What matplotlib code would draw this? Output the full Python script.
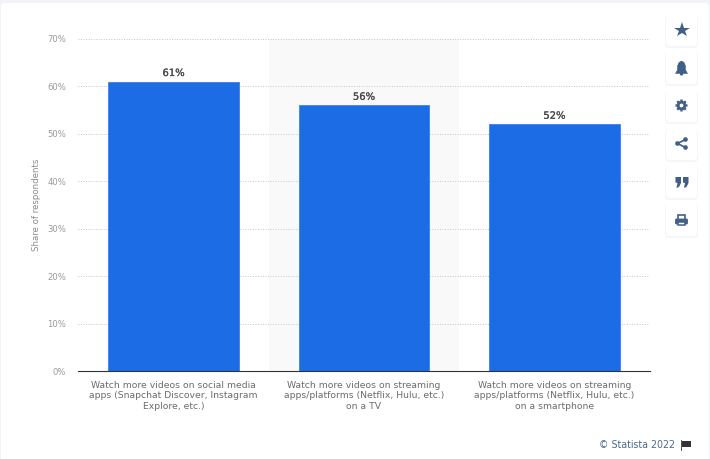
import matplotlib
matplotlib.use("Agg")
import matplotlib.pyplot as plt
import matplotlib.patheffects as pe
import numpy as np
from matplotlib.colors import LinearSegmentedColormap
from matplotlib.patches import FancyBboxPatch, Rectangle, Polygon, Circle, Wedge

categories = [
    "Watch more videos on social media\napps (Snapchat Discover, Instagram\nExplore, etc.)",
    "Watch more videos on streaming\napps/platforms (Netflix, Hulu, etc.)\non a TV",
    "Watch more videos on streaming\napps/platforms (Netflix, Hulu, etc.)\non a smartphone",
]
shares = [61, 56, 52]
y_ticks = [0, 10, 20, 30, 40, 50, 60, 70]

W, H = 710, 459
BLUE = "#1c6ce6"
ICON = "#3f5f86"

plt.rcParams["font.family"] = "DejaVu Sans"

fig = plt.figure(figsize=(W / 100, H / 100), dpi=100, facecolor="#f1f3f9")

# page background, card and the side buttons, in pixel coordinates
bg = fig.add_axes([0, 0, 1, 1], zorder=0)
bg.axis("off")
bg.add_patch(FancyBboxPatch((1, 3), 708, 470, boxstyle="round,pad=0,rounding_size=4",
                            fc="white", ec="none"))
# the soft grey fade behind the buttons
fade = LinearSegmentedColormap.from_list("fade", ["#ffffff", "#f6f7fb"])
bg.imshow(np.linspace(0, 1, 50).reshape(1, -1), cmap=fade, extent=(655, 708.5, 459, 5),
          aspect="auto", zorder=0.5)
bg.set_xlim(0, W)
bg.set_ylim(H, 0)

button_tops = [15, 53, 91, 129, 167, 205]
for top in button_tops:
    bg.add_patch(FancyBboxPatch((665, top), 33, 33, boxstyle="round,pad=0,rounding_size=4",
                                fc="#eef0f6", ec="none", alpha=0.6, zorder=1))
    bg.add_patch(FancyBboxPatch((666, top), 31, 31, boxstyle="round,pad=0,rounding_size=3.5",
                                fc="white", ec="none", zorder=2))

cx = 681.5
# star
bg.plot(cx, 29.8, marker="*", ms=11.5, color=ICON, mew=0, zorder=3)
# bell
bg.add_patch(Polygon([(675.5, 73.5), (677.5, 70), (677.5, 66), (679, 62.5), (681.5, 61), (684, 62.5),
                      (685.5, 66), (685.5, 70), (687.5, 73.5)],
                     fc=ICON, ec=ICON, lw=0.4, zorder=3))
bg.add_patch(Circle((cx, 74), 1.6, fc=ICON, ec="none", zorder=3))
# gear
bg.add_patch(Circle((cx, 105.5), 4.8, fc=ICON, ec="none", zorder=3))
for angle in range(0, 360, 45):
    bg.add_patch(Wedge((cx, 105.5), 6, angle - 13, angle + 13, fc=ICON, ec="none", zorder=3))
bg.add_patch(Circle((cx, 105.5), 1.9, fc="white", ec="none", zorder=4))
# share
bg.plot([685.5, 677.5, 685.5], [139.5, 143.5, 147.5], color=ICON, lw=1.2, zorder=3)
for px, py in [(685.5, 139.5), (677.5, 143.5), (685.5, 147.5)]:
    bg.add_patch(Circle((px, py), 2.3, fc=ICON, ec="none", zorder=3))
# quote
for qx in [675.5, 683]:
    bg.add_patch(Polygon([(qx, 177), (qx + 5.5, 177), (qx + 5.5, 183), (qx + 3.5, 187), (qx + 1, 188),
                          (qx + 2, 183), (qx, 182.5)], fc=ICON, ec="none", zorder=3))
# printer
bg.add_patch(Rectangle((678, 214.5), 7, 5, fc="white", ec=ICON, lw=1.2, zorder=3))
bg.add_patch(FancyBboxPatch((675.5, 219), 12, 5, boxstyle="round,pad=0,rounding_size=1",
                            fc=ICON, ec=ICON, lw=0.6, zorder=3))
bg.add_patch(Rectangle((678, 222), 7, 3, fc="white", ec=ICON, lw=1.1, zorder=4))

# main chart
left, right, top, bottom = 78.3, 649.6, 38.8, 371.3
ax = fig.add_axes([left / W, 1 - bottom / H, (right - left) / W, (bottom - top) / H],
                  facecolor="none", zorder=1)
x = list(range(len(categories)))
ax.axvspan(0.5, 1.5, color="#f9f9f9", lw=0, zorder=0)
ax.bar(x, shares, width=0.685, color=BLUE, edgecolor="#3a80ec", linewidth=0.6, zorder=3)
for xi, v in zip(x, shares):
    ax.text(xi, v + 0.75, f"{v}%", ha="center", va="bottom", fontsize=7.2, color="#484848",
            path_effects=[pe.withStroke(linewidth=0.15, foreground="#484848")])

ax.set_xlim(-0.5, 2.5)
ax.set_ylim(0, 70)
ax.set_yticks(y_ticks)
ax.set_yticklabels([f"{t}%" for t in y_ticks], fontsize=6.1, color="#9a9a9a")
ax.set_xticks(x)
ax.set_xticklabels(categories, fontsize=6.7, color="#6b6b6b", linespacing=1.2)
ax.tick_params(axis="x", length=0, pad=7)
ax.tick_params(axis="y", length=0, pad=8.6)
ax.grid(axis="y", color="#c6c6c6", linestyle=(0, (1, 1.6)), linewidth=0.7, zorder=1)
ax.set_axisbelow(True)
for side in ["top", "left", "right"]:
    ax.spines[side].set_visible(False)
ax.spines["bottom"].set_color("#333333")
ax.spines["bottom"].set_linewidth(0.8)
ax.spines["bottom"].set_zorder(4)
ax.set_ylabel("Share of respondents", fontsize=6.2, color="#8a8a8a")
ax.yaxis.set_label_coords((41 - left) / (right - left), 0.5)

# source line
bg.text(675, 444.5, "\u00a9 Statista 2022", fontsize=6.85, color="#4a6a90", ha="right", va="center",
        zorder=3)
bg.plot([681, 681], [440, 450], color="#333333", lw=0.6, zorder=3)
bg.add_patch(Polygon([(681.5, 441), (691, 441), (691, 447), (681.5, 447)], fc="#333333", ec="none", zorder=3))

fig.savefig("out.png", dpi=100, facecolor=fig.get_facecolor())
